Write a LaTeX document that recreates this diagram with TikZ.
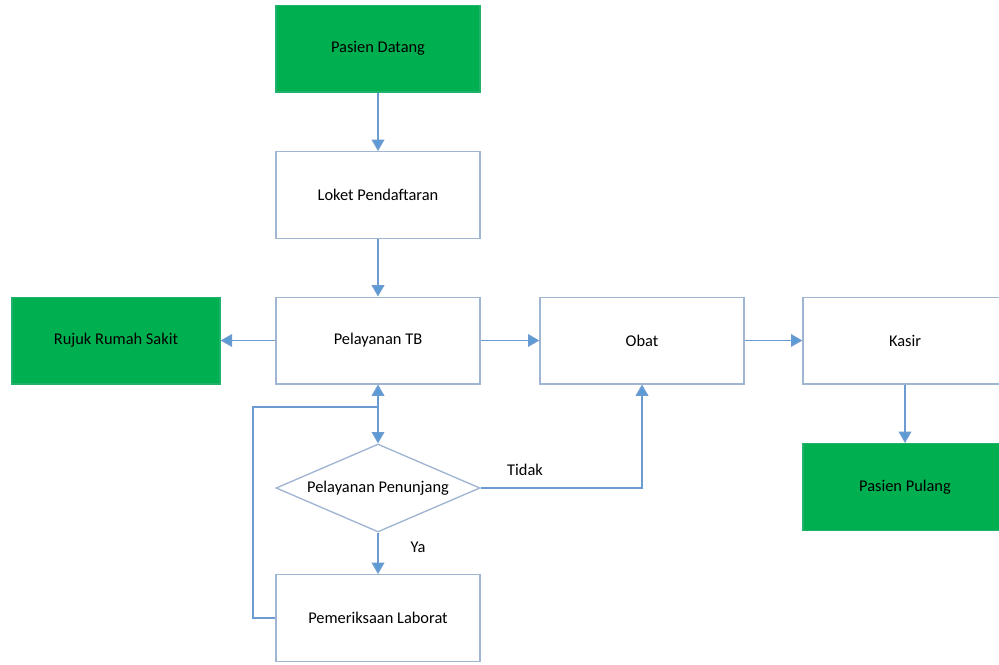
\documentclass[tikz,border=0pt]{standalone}
\usepackage{fontspec}
\setmainfont{Carlito}
\usetikzlibrary{arrows.meta,shapes.geometric}
\definecolor{gr}{HTML}{00B050}
\definecolor{bd}{HTML}{9FB5D2}
\definecolor{ln}{HTML}{6C9BD2}
\definecolor{ah}{HTML}{5B9BD5}
\tikzset{
  box/.style={draw=bd, line width=1pt, fill=white, minimum width=153pt, minimum height=65pt, inner sep=0pt, font=\fontsize{12.3}{14}\selectfont},
  gbox/.style={box, fill=gr, draw=gr!80!bd},
  dia/.style={diamond, shape aspect=2.32, draw=bd, line width=1pt, fill=white, minimum width=153pt, minimum height=66pt, inner sep=0pt, font=\fontsize{12.3}{14}\selectfont},
  conn/.style={draw=ln, line width=1.1pt, -{Triangle[width=9.5pt,length=8.5pt,fill=ah]}},
  plain/.style={draw=ln, line width=1.1pt},
  lbl/.style={font=\fontsize{12.3}{14}\selectfont}
}
\begin{document}
\begin{tikzpicture}[x=0.75pt,y=-0.75pt]
\useasboundingbox[fill=white] (0,0) rectangle (999,664);
\node[gbox] (datang) at (378,48.5) {Pasien Datang};
\node[box] (loket) at (378,195) {Loket Pendaftaran};
\node[box] (tb) at (378,340.5) {Pelayanan TB};
\node[gbox, minimum width=156pt] (rujuk) at (116,340.5) {Rujuk Rumah Sakit};
\node[box] (obat) at (642,340.5) {Obat};
\node[box] (kasir) at (905,340.5) {Kasir};
\node[gbox] (pulang) at (905,487) {Pasien Pulang};
\node[dia] (pen) at (378,488) {Pelayanan Penunjang};
\node[box] (lab) at (378,618) {Pemeriksaan Laborat};
\coordinate (lc) at (253,407);
\coordinate (j) at (378,407);
\draw[conn] (datang.south) -- (loket.north);
\draw[conn] (loket.south) -- (tb.north);
\draw[conn] (tb.west) -- (rujuk.east);
\draw[conn] (tb.east) -- (obat.west);
\draw[conn] (obat.east) -- (kasir.west);
\draw[conn] (kasir.south) -- (pulang.north);
\draw[conn] (pen.south) -- (lab.north);
\draw[conn] (pen.east) -| (obat.south);
\draw[plain] (lab.west) -| (lc) -- (j);
\draw[conn] (j) -- (tb.south);
\draw[conn] (j) -- (pen.north);
\node[lbl] (tidak) at (525,470) {Tidak};
\node[lbl] (ya) at (418,547) {Ya};
\end{tikzpicture}
\end{document}
